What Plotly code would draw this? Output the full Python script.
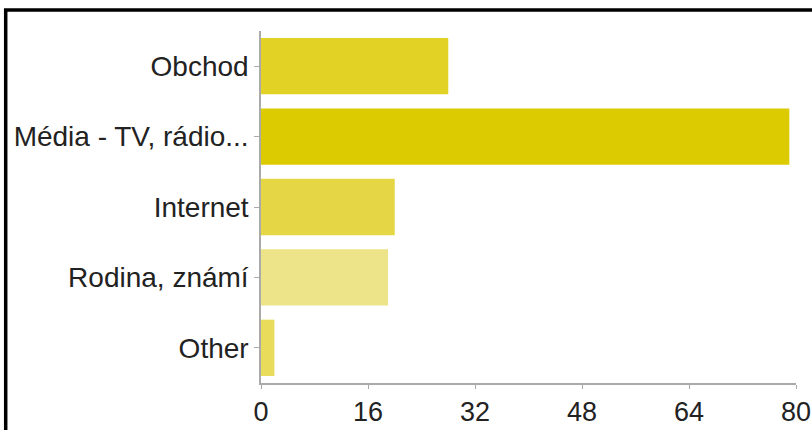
import plotly.graph_objects as go

categories = ["Obchod", "Média - TV, rádio...", "Internet", "Rodina, známí", "Other"]
values = [28, 79, 20, 19, 2]
colors = ["#E2D226", "#DCCB00", "#E5D645", "#EDE388", "#E8DC5A"]
x_ticks = [0, 16, 32, 48, 64, 80]

W, H = 812, 430
ml, mr, mt, mb = 261, 16, 31, 47
pw, ph = W - ml - mr, H - mt - mb

def px_to_paper_x(px):
    return (px - ml) / pw

def px_to_paper_y(py):
    return (H - mb - py) / ph

fig = go.Figure(
    go.Bar(
        y=categories,
        x=values,
        orientation="h",
        marker=dict(color=colors, line=dict(width=0)),
        hoverinfo="x+y",
    )
)

fig.update_layout(
    width=W,
    height=H,
    margin=dict(l=ml, r=mr, t=mt, b=mb, pad=0, autoexpand=False),
    paper_bgcolor="white",
    plot_bgcolor="white",
    bargap=0.2,
    showlegend=False,
    font=dict(family="Liberation Sans, Arial, sans-serif", size=28, color="#222222"),
    shapes=[
        dict(
            type="rect",
            xref="paper",
            yref="paper",
            x0=px_to_paper_x(5.7),
            x1=px_to_paper_x(1000),
            y0=px_to_paper_y(800),
            y1=px_to_paper_y(10),
            line=dict(color="black", width=3.5),
            fillcolor="rgba(0,0,0,0)",
            layer="above",
        )
    ],
)

fig.update_xaxes(
    range=[0, 80],
    tickvals=x_ticks,
    ticktext=[str(v) for v in x_ticks],
    showgrid=False,
    zeroline=False,
    showline=True,
    linecolor="#AAAAAA",
    linewidth=1.5,
    ticks="outside",
    ticklen=4,
    tickcolor="#AAAAAA",
    tickwidth=1,
    tickfont=dict(size=27),
    automargin=False,
    fixedrange=True,
)

fig.update_yaxes(
    autorange="reversed",
    showgrid=False,
    zeroline=False,
    showline=True,
    linecolor="#AAAAAA",
    linewidth=1.5,
    ticks="outside",
    ticklen=5,
    tickcolor="#AAAAAA",
    tickwidth=1,
    tickfont=dict(size=28),
    automargin=False,
    fixedrange=True,
)

fig.write_html(
    "out.html",
    config={"displayModeBar": False},
    post_script="document.body.style.margin='0';document.body.style.overflow='hidden';",
)
